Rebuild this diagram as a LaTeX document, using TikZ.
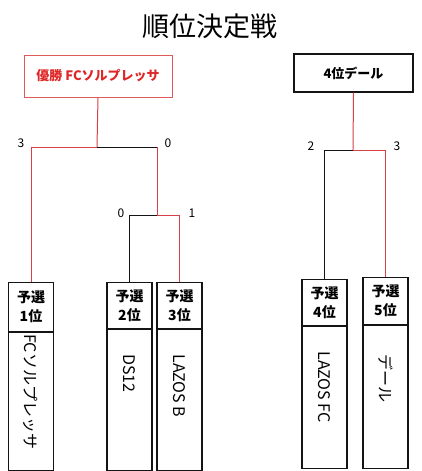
\documentclass[tikz,border=0pt]{standalone}
\usepackage{fontspec}
\setmainfont{Noto Sans CJK JP}
\usepackage{tikz}
\usetikzlibrary{positioning}
\definecolor{myred}{RGB}{222,40,40}
\definecolor{linered}{RGB}{214,64,70}
\definecolor{boxred}{RGB}{224,90,90}
\definecolor{mydark}{RGB}{20,20,20}
\tikzset{
  winbox/.style={rectangle, draw=boxred, line width=1pt, minimum width=148pt,
    minimum height=42pt, font=\fontsize{13}{15}\selectfont\bfseries, text=myred},
  rankbox/.style={rectangle, draw=mydark, line width=1.2pt, minimum width=119pt,
    minimum height=38pt, font=\fontsize{13}{15}\selectfont\bfseries},
  hdbox/.style={rectangle, draw=mydark, line width=1.1pt, minimum width=45pt,
    align=center, font=\fontsize{14}{19}\selectfont\bfseries, inner sep=0pt},
  namebox/.style={rectangle, draw=mydark, line width=1.1pt, minimum width=45pt},
  vlabel/.style={rotate=-90, anchor=west, inner sep=0pt, font=\fontsize{16}{18}\selectfont},
  score/.style={font=\fontsize{12}{14}\selectfont, inner sep=0pt},
  redln/.style={draw=linered, line width=1pt},
  blkln/.style={draw=mydark, line width=1pt}
}

\begin{document}
\begin{tikzpicture}[x=1pt, y=-1pt]
  \useasboundingbox (0,0) rectangle (421,471);
  \node[font=\fontsize{27}{30}\selectfont] (title) at (210,26) {順位決定戦};

  % top boxes
  \node[winbox] (win) at (98,76) {優勝 FCソルプレッサ};
  \node[rankbox] (fourth) at (353.5,73) {4位デール};

  % entry boxes
  \node[hdbox, minimum height=49pt, anchor=north] (h1) at (31,282) {予選\\1位};
  \node[namebox, minimum height=138pt, below=0pt of h1] (n1) {};
  \node[hdbox, minimum height=46pt, anchor=north] (h2) at (129.5,282) {予選\\2位};
  \node[namebox, minimum height=141pt, below=0pt of h2] (n2) {};
  \node[hdbox, minimum height=46pt, anchor=north] (h3) at (179.5,282) {予選\\3位};
  \node[namebox, minimum height=141pt, below=0pt of h3] (n3) {};
  \node[hdbox, minimum height=46pt, anchor=north] (h4) at (324.5,279) {予選\\4位};
  \node[namebox, minimum height=142pt, below=0pt of h4] (n4) {};
  \node[hdbox, minimum height=47pt, anchor=north] (h5) at (385.5,277) {予選\\5位};
  \node[namebox, minimum height=143pt, below=0pt of h5] (n5) {};

  \node[vlabel] (t1) at ([yshift=-2pt]n1.north) {FCソルプレッサ};
  \node[vlabel] (t2) at ([yshift=-25pt]n2.north) {DS12};
  \node[vlabel] (t3) at ([yshift=-25pt]n3.north) {LAZOS B};
  \node[vlabel] (t4) at ([yshift=-25pt]n4.north) {LAZOS FC};
  \node[vlabel] (t5) at ([yshift=-29pt]n5.north) {デール};

  % bracket joints
  \coordinate (s1) at (97,147);
  \coordinate (m1) at (157,215);
  \coordinate (s2) at (353,150);

  \draw[redln] (win.south) -- (s1);
  \draw[redln] (s1) -| (h1.north);
  \draw[blkln] (s1) -- (s1 -| m1);
  \draw[redln] (s1 -| m1) -- (m1);
  \draw[blkln] (m1) -| (h2.north);
  \draw[redln] (m1) -| (h3.north);

  \draw[redln] (fourth.south) -- (s2);
  \draw[blkln] (s2) -| (h4.north);
  \draw[redln] (s2) -| (h5.north);

  % scores
  \node[score] (sc1) at (21,143) {3};
  \node[score] (sc2) at (168,143) {0};
  \node[score] (sc3) at (121,213) {0};
  \node[score] (sc4) at (192,213) {1};
  \node[score] (sc5) at (311,146) {2};
  \node[score] (sc6) at (397,146) {3};
\end{tikzpicture}
\end{document}
